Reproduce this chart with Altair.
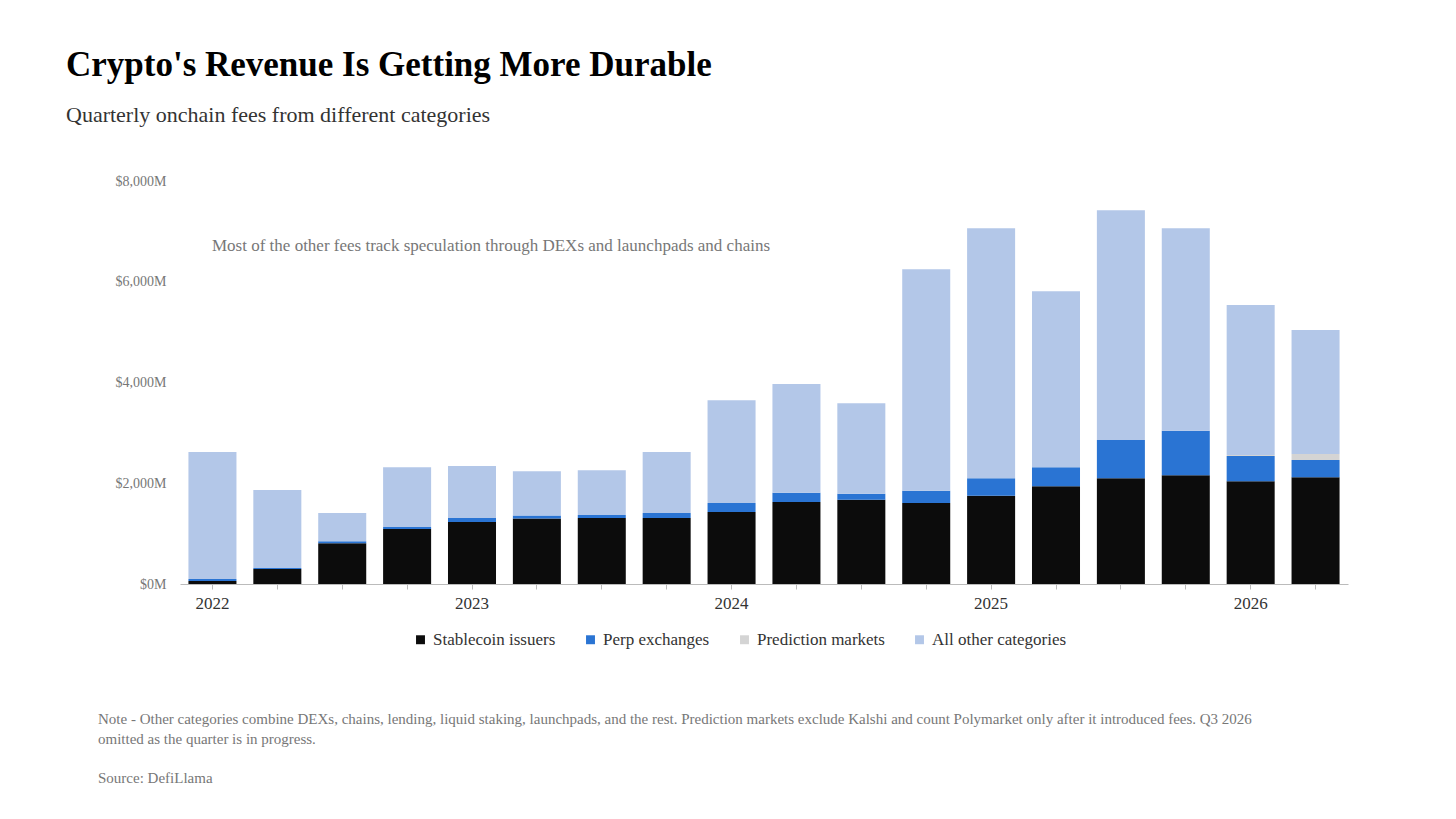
import altair as alt
import pandas as pd

quarters = ["2022 Q1", "2022 Q2", "2022 Q3", "2022 Q4", "2023 Q1", "2023 Q2", "2023 Q3", "2023 Q4",
            "2024 Q1", "2024 Q2", "2024 Q3", "2024 Q4", "2025 Q1", "2025 Q2", "2025 Q3", "2025 Q4",
            "2026 Q1", "2026 Q2"]
stablecoin = [60, 300, 810, 1090, 1230, 1300, 1310, 1310, 1430, 1630, 1670, 1610, 1750, 1940, 2100, 2160, 2040, 2120]
perp = [40, 20, 40, 40, 80, 60, 60, 100, 180, 180, 120, 240, 350, 380, 760, 880, 500, 340]
prediction = [0, 0, 0, 0, 0, 0, 0, 0, 0, 0, 0, 0, 0, 0, 0, 0, 20, 120]
totals = [2620, 1865, 1410, 2320, 2340, 2240, 2260, 2620, 3650, 3970, 3590, 6250, 7060, 5810, 7420, 7060, 5540, 5040]

categories = ["Stablecoin issuers", "Perp exchanges", "Prediction markets", "All other categories"]
colors = ["#0c0c0c", "#2a74d3", "#d4d4d4", "#b3c7e8"]

rows = []
for i, q in enumerate(quarters):
    other = totals[i] - stablecoin[i] - perp[i] - prediction[i]
    for k, (c, v) in enumerate(zip(categories, [stablecoin[i], perp[i], prediction[i], other])):
        rows.append({"quarter": q, "category": c, "fee": v, "rank": k})
df = pd.DataFrame(rows)

FONT = "Liberation Serif"
W, H = 1168, 403

bars = alt.Chart(df).mark_bar().encode(
    x=alt.X("quarter:O", sort=quarters, title=None, scale=alt.Scale(paddingInner=0.26, paddingOuter=0.13),
            axis=alt.Axis(labelExpr="substring(datum.value, 5) == 'Q1' ? substring(datum.value, 0, 4) : ''",
                          labelAngle=0, domainColor="#bbbbbb", tickColor="#bbbbbb",
                          tickSize=5, labelFontSize=17, labelColor="#333333", labelPadding=6)),
    y=alt.Y("fee:Q", stack="zero", title=None, scale=alt.Scale(domain=[0, 8000]),
            axis=alt.Axis(values=[0, 2000, 4000, 6000, 8000], grid=False, domain=False, ticks=False,
                          format=",d", labelExpr="'$' + datum.label + 'M'",
                          labelFontSize=14, labelColor="#777777", labelPadding=14)),
    color=alt.Color("category:N", sort=categories,
                    scale=alt.Scale(domain=categories, range=colors),
                    legend=alt.Legend(orient="none", legendX=232, legendY=450, direction="horizontal",
                                      title=None, symbolType="square", symbolSize=80, labelFontSize=17,
                                      labelColor="#333333", columnPadding=26, labelFont=FONT)),
    order=alt.Order("rank:Q"),
)


def text_line(t, x, y, size, color):
    return alt.Chart(pd.DataFrame({"t": [t]})).mark_text(
        align="left", baseline="middle", font=FONT, fontSize=size, color=color
    ).encode(x=alt.value(x), y=alt.value(y), text="t:N")


note = text_line("Most of the other fees track speculation through DEXs and launchpads and chains", 32, 65, 17, "#777777")
foot1 = text_line("Note - Other categories combine DEXs, chains, lending, liquid staking, launchpads, and the rest. "
                  "Prediction markets exclude Kalshi and count Polymarket only after it introduced fees. Q3 2026",
                  -82, 135 + H, 15, "#777777")
foot2 = text_line("omitted as the quarter is in progress.", -82, 155 + H, 15, "#777777")
foot3 = text_line("Source: DefiLlama", -82, 194 + H, 15, "#777777")

chart = alt.layer(bars, note, foot1, foot2, foot3).properties(
    width=W, height=H,
    padding={"left": 58, "top": 40, "right": 10, "bottom": 10},
    title=alt.TitleParams("Crypto's Revenue Is Getting More Durable",
                          subtitle="Quarterly onchain fees from different categories",
                          anchor="start", frame="group", dx=-114,
                          font=FONT, fontSize=35, fontWeight="bold", color="#000000",
                          subtitleFont=FONT, subtitleFontSize=22, subtitleColor="#333333",
                          subtitlePadding=22, offset=48),
).configure_view(stroke=None).configure_axis(labelFont=FONT)

chart.save("out.html", embed_options={"renderer": "svg", "actions": False})
